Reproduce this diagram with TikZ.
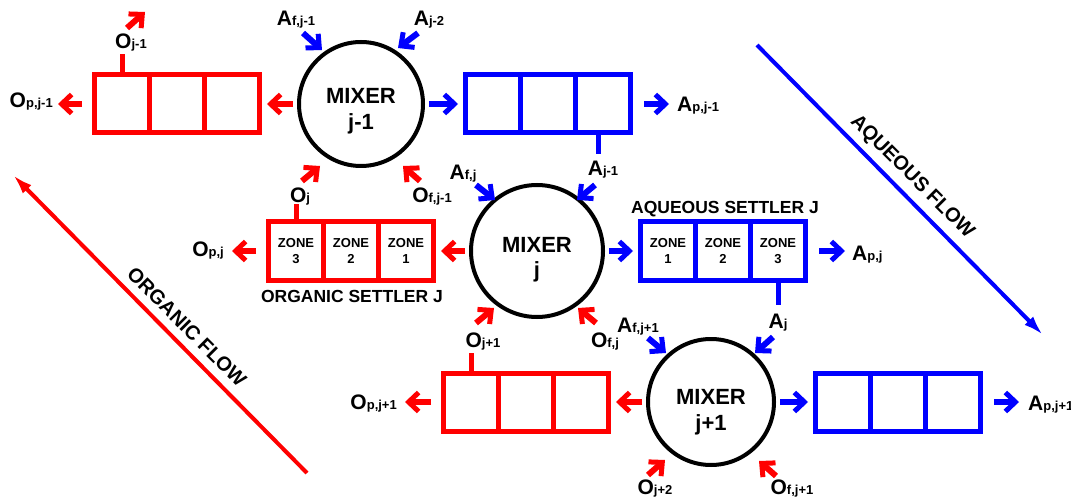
\documentclass[tikz,border=0pt]{standalone}
\usepackage{fontspec}
\setmainfont{Liberation Sans}
\usetikzlibrary{arrows.meta}
\definecolor{ored}{RGB}{255,0,0}
\definecolor{ablue}{RGB}{0,0,255}
\newcommand{\fl}[2]{\fontsize{21}{21}\selectfont\bfseries #1{\fontsize{13}{13}\selectfont #2}}
\begin{document}
\begin{tikzpicture}[x=1pt,y=-1pt,
  mixer/.style={circle,draw=black,line width=4pt,inner sep=0pt},
  mixtxt/.style={font=\fontsize{22}{22}\selectfont\bfseries,inner sep=0pt,anchor=base},
  ocell/.style={draw=ored,line width=5pt,minimum width=55pt,minimum height=58pt,inner sep=0pt,font=\fontsize{13}{16}\selectfont\bfseries,align=center},
  acell/.style={ocell,draw=ablue},
  barb/.style={line width=6pt,-{Straight Barb[length=10pt,width=19pt,line width=5pt]}},
  oarr/.style={barb,ored},
  aarr/.style={barb,ablue},
  lab/.style={inner sep=0pt,anchor=base},
  tab/.style={line width=5pt},
  bigflow/.style={line width=4pt,-{Latex[length=20pt,width=12pt]}},
  flowtxt/.style={font=\fontsize{20}{20}\selectfont\bfseries,inner sep=0pt,rotate=-45},
  settxt/.style={font=\fontsize{17.5}{17.5}\selectfont\bfseries,inner sep=0pt,anchor=base}
]
\useasboundingbox (0,0) rectangle (1071,497);

% mixers
\node[mixer,minimum size=124pt] (M1) at (361,104) {};
\node[mixer,minimum size=132pt] (M2) at (537,251) {};
\node[mixer,minimum size=126pt] (M3) at (711,402) {};
\node[mixtxt] (M1t) at (361,104) {MIXER};
\node[mixtxt] (M1s) at (361,130) {j-1};
\node[mixtxt] (M2t) at (537,252) {MIXER};
\node[mixtxt] (M2s) at (537,277) {j};
\node[mixtxt] (M3t) at (711,404) {MIXER};
\node[mixtxt] (M3s) at (711,430) {j+1};

% organic settlers
\node[ocell] (O1a) at (122,104) {};
\node[ocell] (O1b) at (177,104) {};
\node[ocell] (O1c) at (232,104) {};
\node[ocell] (O2a) at (296,251) {ZONE\\3};
\node[ocell] (O2b) at (351,251) {ZONE\\2};
\node[ocell] (O2c) at (406,251) {ZONE\\1};
\node[ocell] (O3a) at (471,402) {};
\node[ocell] (O3b) at (526,402) {};
\node[ocell] (O3c) at (581,402) {};
% aqueous settlers
\node[acell] (A1a) at (493,104) {};
\node[acell] (A1b) at (548,104) {};
\node[acell] (A1c) at (603,104) {};
\node[acell] (A2a) at (668,251) {ZONE\\1};
\node[acell] (A2b) at (723,251) {ZONE\\2};
\node[acell] (A2c) at (778,251) {ZONE\\3};
\node[acell] (A3a) at (843,402) {};
\node[acell] (A3b) at (898,402) {};
\node[acell] (A3c) at (953,402) {};

\node[settxt] (ost) at (352,302) {ORGANIC SETTLER J};
\node[settxt] (ast) at (725,214) {AQUEOUS SETTLER J};

% mixer -> settler
\draw[oarr,shorten <=4pt,shorten >=5pt] (M1) -- (O1c);
\draw[aarr,shorten <=4pt,shorten >=5pt] (M1) -- (A1a);
\draw[oarr,shorten <=4pt,shorten >=5pt] (M2) -- (O2c);
\draw[aarr,shorten <=4pt,shorten >=5pt] (M2) -- (A2a);
\draw[oarr,shorten <=4pt,shorten >=5pt] (M3) -- (O3c);
\draw[aarr,shorten <=4pt,shorten >=5pt] (M3) -- (A3a);

% product outlets
\coordinate (op1) at (58,104);
\coordinate (op2) at (232,251);
\coordinate (op3) at (405,402);
\coordinate (ap1) at (669,104);
\coordinate (ap2) at (845,251);
\coordinate (ap3) at (1019,402);
\draw[oarr,shorten <=10pt] (O1a) -- (op1);
\draw[oarr,shorten <=10pt] (O2a) -- (op2);
\draw[oarr,shorten <=10pt] (O3a) -- (op3);
\draw[aarr,shorten <=11pt] (A1c) -- (ap1);
\draw[aarr,shorten <=11pt] (A2c) -- (ap2);
\draw[aarr,shorten <=11pt] (A3c) -- (ap3);

% tabs
\coordinate (ot1) at (122,54);
\coordinate (ot2) at (296,204);
\coordinate (ot3) at (471,353);
\coordinate (at1) at (598,154);
\coordinate (at2) at (778,305);
\draw[tab,ored] (O1a.north) -- (ot1);
\draw[tab,ored] (O2a.north) -- (ot2);
\draw[tab,ored] (O3a.north) -- (ot3);
\draw[tab,ablue] (at1 |- A1c.south) -- (at1);
\draw[tab,ablue] (A2c.south) -- (at2);

% inlet arrows
\coordinate (u0t) at (127,28);  \coordinate (u0h) at (145,12);
\coordinate (a1t) at (303,33);  \coordinate (a1h) at (322,50);
\coordinate (a2t) at (418,33);  \coordinate (a2h) at (398,48);
\coordinate (a3t) at (302,181); \coordinate (a3h) at (320,166);
\coordinate (a4t) at (420,181); \coordinate (a4h) at (403,166);
\coordinate (b1t) at (476,185); \coordinate (b1h) at (495,200);
\coordinate (b2t) at (595,185); \coordinate (b2h) at (577,200);
\coordinate (b3t) at (476,323); \coordinate (b3h) at (494,308);
\coordinate (b4t) at (596,323); \coordinate (b4h) at (578,308);
\coordinate (c1t) at (648,338); \coordinate (c1h) at (666,353);
\coordinate (c2t) at (773,337); \coordinate (c2h) at (755,353);
\coordinate (c3t) at (648,475); \coordinate (c3h) at (665,460);
\coordinate (c4t) at (776,476); \coordinate (c4h) at (759,461);
\draw[oarr] (u0t) -- (u0h);
\draw[aarr] (a1t) -- (a1h);
\draw[aarr] (a2t) -- (a2h);
\draw[oarr] (a3t) -- (a3h);
\draw[oarr] (a4t) -- (a4h);
\draw[aarr] (b1t) -- (b1h);
\draw[aarr] (b2t) -- (b2h);
\draw[oarr] (b3t) -- (b3h);
\draw[oarr] (b4t) -- (b4h);
\draw[aarr] (c1t) -- (c1h);
\draw[aarr] (c2t) -- (c2h);
\draw[oarr] (c3t) -- (c3h);
\draw[oarr] (c4t) -- (c4h);

% labels
\node[lab] (lO1) at (131,49) {\fl{O}{j-1}};
\node[lab,anchor=base east] (lOp1) at (53,108) {\fl{O}{p,j-1}};
\node[lab] (lAf1) at (296,26) {\fl{A}{f,j-1}};
\node[lab] (lA2) at (429,26) {\fl{A}{j-2}};
\node[lab,anchor=base west] (lAp1) at (677,112) {\fl{A}{p,j-1}};
\node[lab] (lA1) at (603,176) {\fl{A}{j-1}};
\node[lab] (lOj) at (300,203) {\fl{O}{j}};
\node[lab] (lOf1) at (432,203) {\fl{O}{f,j-1}};
\node[lab,anchor=base east] (lOp2) at (224,257) {\fl{O}{p,j}};
\node[lab] (lAfj) at (463,180) {\fl{A}{f,j}};
\node[lab,anchor=base west] (lAp2) at (852,260) {\fl{A}{p,j}};
\node[lab] (lOj1) at (483,347) {\fl{O}{j+1}};
\node[lab] (lOfj) at (605,347) {\fl{O}{f,j}};
\node[lab] (lAfj1) at (638,332) {\fl{A}{f,j+1}};
\node[lab] (lAj) at (778,328) {\fl{A}{j}};
\node[lab,anchor=base east] (lOp3) at (397,409) {\fl{O}{p,j+1}};
\node[lab,anchor=base west] (lAp3) at (1028,410) {\fl{A}{p,j+1}};
\node[lab] (lOj2) at (655,494) {\fl{O}{j+2}};
\node[lab] (lOfj1) at (792,494) {\fl{O}{f,j+1}};

% flow directions
\coordinate (of1) at (307,473); \coordinate (of2) at (13,175);
\coordinate (qf1) at (757,45);  \coordinate (qf2) at (1043,335);
\draw[bigflow,ored] (of1) -- (of2);
\draw[bigflow,ablue] (qf1) -- (qf2);
\node[flowtxt] (oft) at (187,327) {ORGANIC FLOW};
\node[flowtxt] (aft) at (912,177) {AQUEOUS FLOW};
\end{tikzpicture}
\end{document}
